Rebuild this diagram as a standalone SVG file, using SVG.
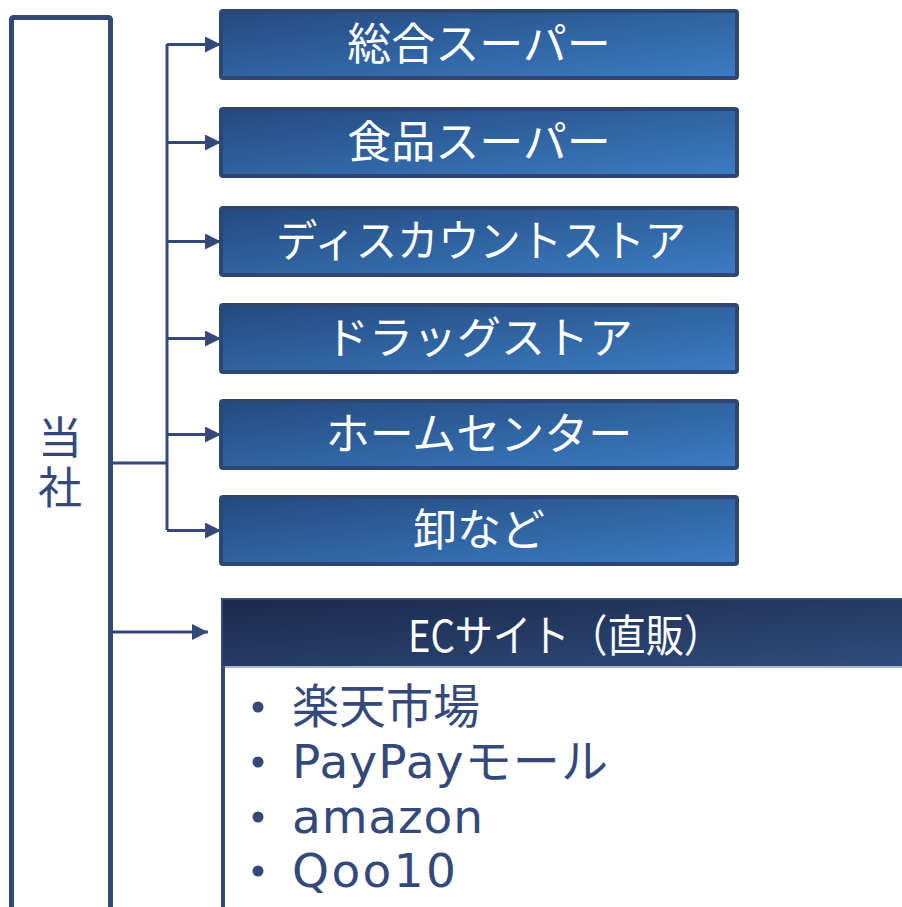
<svg xmlns="http://www.w3.org/2000/svg" width="902" height="907" viewBox="0 0 902 907">
<defs>
<linearGradient id="gBlue" x1="0" y1="0" x2="1" y2="1">
<stop offset="0" stop-color="#244a7e"/>
<stop offset="1" stop-color="#3c7cc4"/>
</linearGradient>
<linearGradient id="gDark" x1="0" y1="0" x2="1" y2="1">
<stop offset="0" stop-color="#1b2a4b"/>
<stop offset="1" stop-color="#2f4c7e"/>
</linearGradient>
<marker id="arr" markerUnits="userSpaceOnUse" markerWidth="17" markerHeight="17" refX="16" refY="8" orient="auto">
<path d="M0,0 L16,8 L0,16 z" fill="#34497a"/>
</marker>
<style>
.box{fill:url(#gBlue);stroke:#2f4673;stroke-width:4}
.lbl{font-family:"Noto Sans CJK JP","Noto Sans",sans-serif;font-size:44px;fill:#ffffff;text-anchor:middle}
.con{stroke:#34497a;stroke-width:3;fill:none}
.item{font-family:"DejaVu Sans","Noto Sans CJK JP",sans-serif;font-size:47px;fill:#34497a}
</style>
</defs>
<rect width="902" height="907" fill="#ffffff"/>
<g id="company">
<rect x="11.5" y="17.5" width="99" height="900" fill="#ffffff" stroke="#34497a" stroke-width="5" rx="2"/>
<text x="60" y="465" text-anchor="middle" style="writing-mode:vertical-rl;letter-spacing:6px;font-family:'Noto Sans CJK JP',sans-serif;font-size:44px;fill:#34497a">当社</text>
</g>
<g id="connectors">
<polyline class="con" points="112,463 167,463"/>
<polyline class="con" points="167,44 167,530"/>
<line class="con" x1="167" y1="44.5" x2="221" y2="44.5" marker-end="url(#arr)"/>
<line class="con" x1="167" y1="142.5" x2="221" y2="142.5" marker-end="url(#arr)"/>
<line class="con" x1="167" y1="241.5" x2="221" y2="241.5" marker-end="url(#arr)"/>
<line class="con" x1="167" y1="338.5" x2="221" y2="338.5" marker-end="url(#arr)"/>
<line class="con" x1="167" y1="434.5" x2="221" y2="434.5" marker-end="url(#arr)"/>
<line class="con" x1="167" y1="530.5" x2="221" y2="530.5" marker-end="url(#arr)"/>
<line class="con" x1="112" y1="632" x2="208" y2="632" marker-end="url(#arr)"/>
</g>
<g id="n1"><rect class="box" x="221" y="11" width="516" height="67" rx="2"/><text class="lbl" x="479" y="60">総合スーパー</text></g>
<g id="n2"><rect class="box" x="221" y="109" width="516" height="67" rx="2"/><text class="lbl" x="479" y="158">食品スーパー</text></g>
<g id="n3"><rect class="box" x="221" y="208" width="516" height="67" rx="2"/><text class="lbl" x="481" y="257" textLength="410" lengthAdjust="spacingAndGlyphs">ディスカウントストア</text></g>
<g id="n4"><rect class="box" x="221" y="305" width="516" height="67" rx="2"/><text class="lbl" x="479" y="354">ドラッグストア</text></g>
<g id="n5"><rect class="box" x="221" y="401" width="516" height="67" rx="2"/><text class="lbl" x="479" y="450">ホームセンター</text></g>
<g id="n6"><rect class="box" x="221" y="497" width="516" height="67" rx="2"/><text class="lbl" x="479" y="546">卸など</text></g>
<g id="ec">
<rect x="223" y="600" width="690" height="330" fill="#ffffff" stroke="#34497a" stroke-width="4"/>
<rect x="223" y="600" width="690" height="66" fill="url(#gDark)"/>
<line x1="223" y1="667" x2="902" y2="667" stroke="#5a6e96" stroke-width="1"/>
<text class="lbl" x="565" y="652" textLength="314" lengthAdjust="spacingAndGlyphs">ECサイト（直販）</text>
<circle cx="258" cy="707" r="5.5" fill="#34497a"/>
<circle cx="258" cy="762" r="5.5" fill="#34497a"/>
<circle cx="258" cy="817" r="5.5" fill="#34497a"/>
<circle cx="258" cy="871" r="5.5" fill="#34497a"/>
<text class="item" x="292" y="723" font-size="45">楽天市場</text>
<text class="item" x="292" y="778" textLength="316">PayPayモール</text>
<text class="item" x="292" y="833" textLength="191">amazon</text>
<text class="item" x="292" y="887" textLength="164">Qoo10</text>
</g>
</svg>
